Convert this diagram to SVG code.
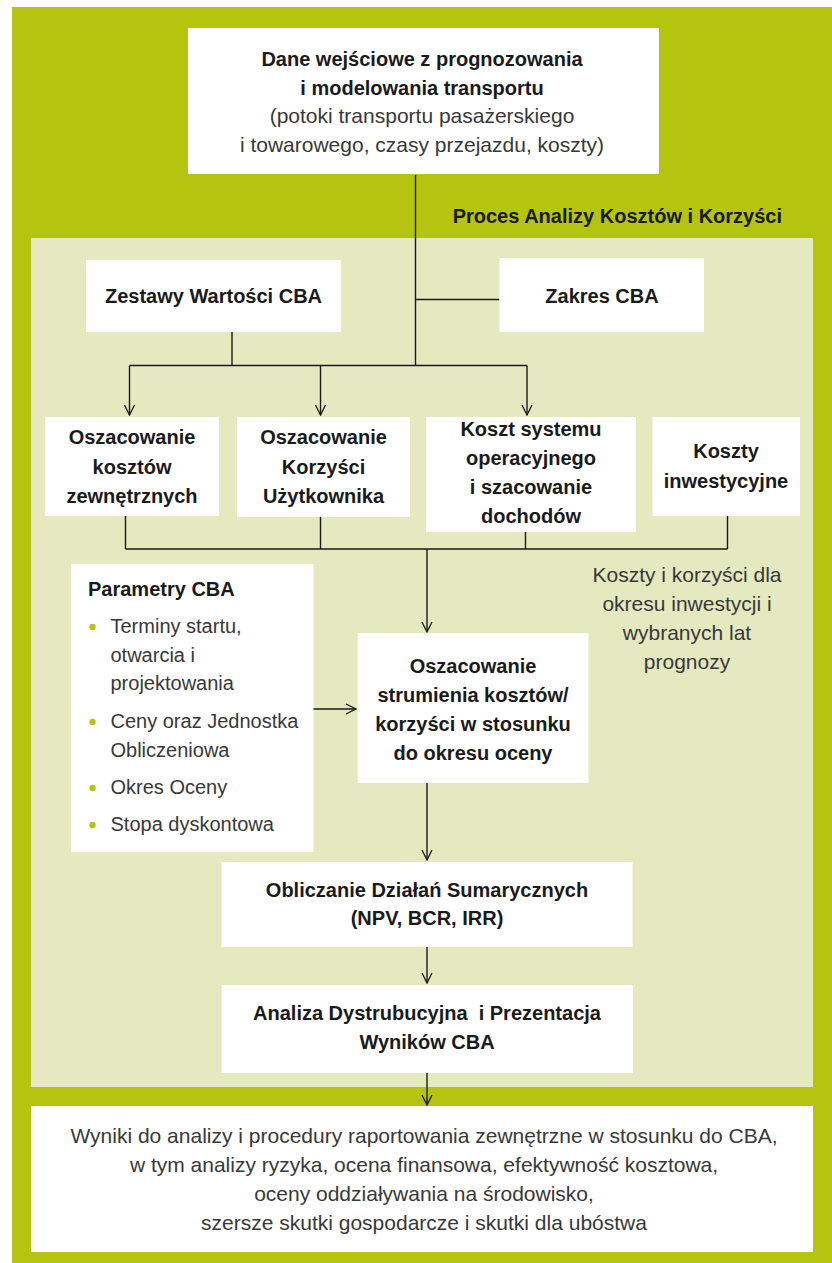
<svg xmlns="http://www.w3.org/2000/svg" width="832" height="1263" viewBox="0 0 832 1263">
  <style>
    .box { fill: #ffffff; }
    .b { font-family: "Liberation Sans", Arial, sans-serif; font-weight: bold; font-size: 20px; fill: #1a1a1a; text-anchor: middle; }
    .r { font-family: "Liberation Sans", Arial, sans-serif; font-size: 21px; fill: #383838; text-anchor: middle; }
    .p { font-family: "Liberation Sans", Arial, sans-serif; font-size: 20px; fill: #383838; }
    .l { text-anchor: start; }
    .wire { fill: none; stroke: #1a1a1a; stroke-width: 1.4; }
    .dot { fill: #b5c40e; }
  </style>
  <defs>
    <marker id="arrow" viewBox="0 0 12 12" refX="11" refY="6" markerWidth="12" markerHeight="12" markerUnits="userSpaceOnUse" orient="auto">
      <path d="M1,1 L11,6 L1,11" fill="none" stroke="#1a1a1a" stroke-width="1.3"/>
    </marker>
  </defs>

  <!-- backgrounds -->
  <rect x="12" y="7" width="820" height="1256" fill="#b5c40e"/>
  <rect x="31" y="238" width="782" height="849" fill="#e5e9bf"/>
  <text class="b" x="782" y="223" style="text-anchor:end">Proces Analizy Kosztów i Korzyści</text>

  <!-- connectors -->
  <g id="connectors" class="wire">
    <path d="M415.5,175 V365.5"/>
    <path d="M415.5,299.5 H499.5"/>
    <path d="M232,332 V365.5"/>
    <path d="M129.5,365.5 H527"/>
    <path d="M129.5,365.5 V415" marker-end="url(#arrow)"/>
    <path d="M320.5,365.5 V415" marker-end="url(#arrow)"/>
    <path d="M527,365.5 V415" marker-end="url(#arrow)"/>
    <path d="M125.5,516 V549 M320.5,517 V549 M525.5,532 V549 M727.5,516 V549 M125.5,549 H727.5"/>
    <path d="M427,549 V632" marker-end="url(#arrow)"/>
    <path d="M313,709 H356" marker-end="url(#arrow)"/>
    <path d="M427,783 V860" marker-end="url(#arrow)"/>
    <path d="M427,947 V983" marker-end="url(#arrow)"/>
    <path d="M427,1073 V1105" marker-end="url(#arrow)"/>
  </g>

  <g id="input-data">
    <rect class="box" x="188" y="28" width="471" height="146"/>
    <text class="b" x="422" y="66">Dane wejściowe z prognozowania</text>
    <text class="b" x="422" y="95">i modelowania transportu</text>
    <text class="r" x="422" y="123">(potoki transportu pasażerskiego</text>
    <text class="r" x="422" y="152">i towarowego, czasy przejazdu, koszty)</text>
  </g>

  <g id="value-sets">
    <rect class="box" x="86" y="260" width="255" height="72"/>
    <text class="b" x="213.5" y="303">Zestawy Wartości CBA</text>
  </g>

  <g id="scope">
    <rect class="box" x="499.5" y="258" width="204.5" height="74"/>
    <text class="b" x="602" y="303">Zakres CBA</text>
  </g>

  <g id="external-costs">
    <rect class="box" x="45" y="417" width="174" height="99"/>
    <text class="b" x="132" y="444">Oszacowanie</text>
    <text class="b" x="132" y="474">kosztów</text>
    <text class="b" x="132" y="503">zewnętrznych</text>
  </g>

  <g id="user-benefits">
    <rect class="box" x="237" y="417" width="173" height="100"/>
    <text class="b" x="323.5" y="444">Oszacowanie</text>
    <text class="b" x="323.5" y="474">Korzyści</text>
    <text class="b" x="323.5" y="503">Użytkownika</text>
  </g>

  <g id="operating-costs">
    <rect class="box" x="426" y="417" width="210" height="115"/>
    <text class="b" x="531" y="436">Koszt systemu</text>
    <text class="b" x="531" y="465">operacyjnego</text>
    <text class="b" x="531" y="494">i szacowanie</text>
    <text class="b" x="531" y="523">dochodów</text>
  </g>

  <g id="investment-costs">
    <rect class="box" x="652.5" y="417" width="147.5" height="99"/>
    <text class="b" x="726" y="458">Koszty</text>
    <text class="b" x="726" y="488">inwestycyjne</text>
  </g>

  <g id="note">
    <text class="r" x="687" y="582">Koszty i korzyści dla</text>
    <text class="r" x="687" y="611">okresu inwestycji i</text>
    <text class="r" x="687" y="640">wybranych lat</text>
    <text class="r" x="687" y="669">prognozy</text>
  </g>

  <g id="parameters">
    <rect class="box" x="71" y="564" width="242.5" height="288"/>
    <text class="b l" x="88" y="596">Parametry CBA</text>
    <circle class="dot" cx="92.5" cy="627" r="3.2"/>
    <text class="p" x="110.5" y="633">Terminy startu,</text>
    <text class="p" x="110.5" y="662">otwarcia i</text>
    <text class="p" x="110.5" y="690">projektowania</text>
    <circle class="dot" cx="92.5" cy="722" r="3.2"/>
    <text class="p" x="110.5" y="728">Ceny oraz Jednostka</text>
    <text class="p" x="110.5" y="757">Obliczeniowa</text>
    <circle class="dot" cx="92.5" cy="788" r="3.2"/>
    <text class="p" x="110.5" y="794">Okres Oceny</text>
    <circle class="dot" cx="92.5" cy="825" r="3.2"/>
    <text class="p" x="110.5" y="831">Stopa dyskontowa</text>
  </g>

  <g id="cash-flow">
    <rect class="box" x="357.5" y="633" width="231" height="150"/>
    <text class="b" x="473" y="673">Oszacowanie</text>
    <text class="b" x="473" y="702">strumienia kosztów/</text>
    <text class="b" x="473" y="731">korzyści w stosunku</text>
    <text class="b" x="473" y="760">do okresu oceny</text>
  </g>

  <g id="summary-measures">
    <rect class="box" x="221.5" y="862" width="411" height="85"/>
    <text class="b" x="427" y="897">Obliczanie Działań Sumarycznych</text>
    <text class="b" x="427" y="925">(NPV, BCR, IRR)</text>
  </g>

  <g id="distribution">
    <rect class="box" x="221.5" y="985" width="411.5" height="88"/>
    <text class="b" x="427" y="1020" style="white-space:pre">Analiza Dystrubucyjna  i Prezentacja</text>
    <text class="b" x="427" y="1049">Wyników CBA</text>
  </g>

  <g id="outputs">
    <rect class="box" x="31" y="1106" width="782" height="146"/>
    <text class="r" x="424" y="1143">Wyniki do analizy i procedury raportowania zewnętrzne w stosunku do CBA,</text>
    <text class="r" x="424" y="1172">w tym analizy ryzyka, ocena finansowa, efektywność kosztowa,</text>
    <text class="r" x="424" y="1201">oceny oddziaływania na środowisko,</text>
    <text class="r" x="424" y="1230">szersze skutki gospodarcze i skutki dla ubóstwa</text>
  </g>
</svg>
